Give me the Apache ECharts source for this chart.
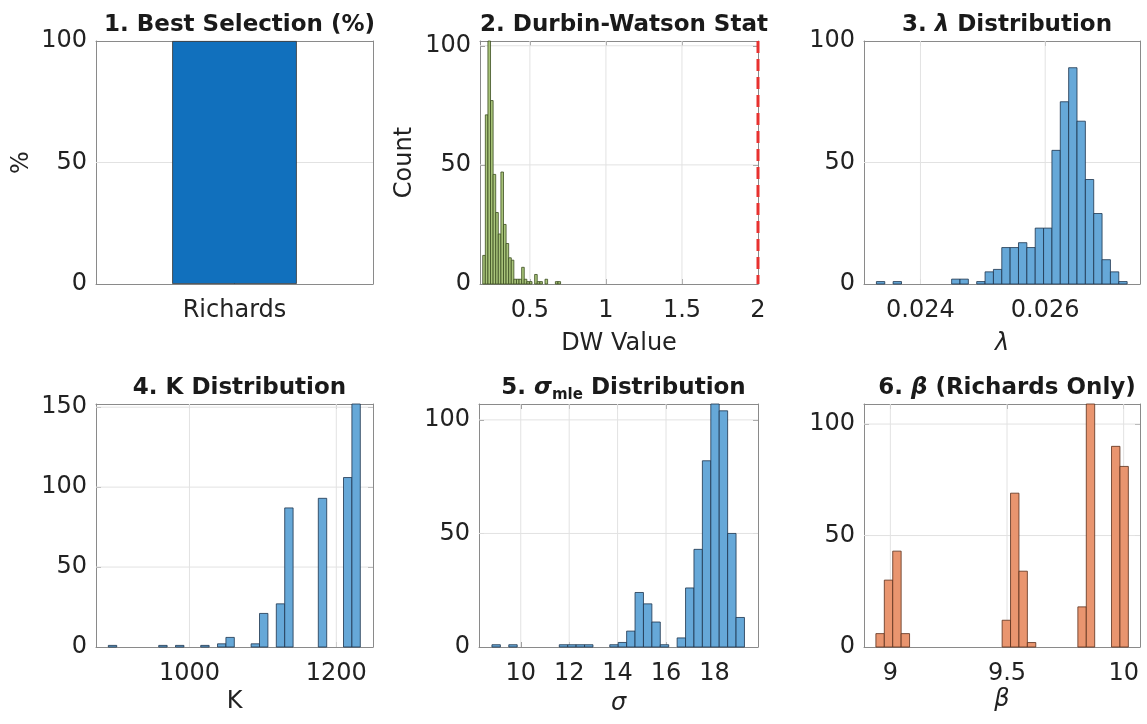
<!DOCTYPE html>
<html>
<head>
<meta charset="utf-8">
<script src="https://cdn.jsdelivr.net/npm/echarts@6/dist/echarts.min.js"></script>
<style>
  html, body { margin: 0; padding: 0; background: #ffffff; }
  #chart { width: 1147px; height: 724px; }
</style>
</head>
<body>
<div id="chart"></div>
<script>
// ---------------- data ----------------
// 1. share of bootstrap runs in which each model was selected as best
const selectionModels = ['Richards'];
const selectionPercent = [100];
const percentTicks = [0, 50, 100];

// 2. Durbin-Watson statistic histogram (30 equal bins), reference value 2
const dwBinStart = 0.19;
const dwBinWidth = 0.01706;
const dwCounts = [12, 71, 102, 77, 46, 30, 21, 47, 25, 17, 11, 10, 2, 2, 2, 7, 2, 1, 1, 0, 4, 1, 1, 0, 2, 0, 0, 0, 1, 1];
const dwReference = [2];
const dwTicks = [0.5, 1, 1.5, 2];
const countTicks = [0, 50, 100];

// 3. lambda histogram
const lambdaBinStart = 0.023294;
const lambdaBinWidth = 0.000134;
const lambdaCounts = [1, 0, 1, 0, 0, 0, 0, 0, 0, 2, 2, 0, 1, 5, 6, 15, 15, 17, 15, 23, 23, 55, 75, 89, 67, 43, 29, 10, 5, 1];
const lambdaTicks = [0.024, 0.026];

// 4. K histogram
const kBinStart = 889.5;
const kBinWidth = 11.44;
const kCounts = [1, 0, 0, 0, 0, 0, 1, 0, 1, 0, 0, 1, 0, 2, 6, 0, 0, 2, 21, 0, 27, 87, 0, 0, 0, 93, 0, 0, 106, 152];
const kTicks = [1000, 1200];
const kCountTicks = [0, 50, 100, 150];

// 5. sigma_mle histogram
const sigmaBinStart = 8.81;
const sigmaBinWidth = 0.3477;
const sigmaCounts = [1, 0, 1, 0, 0, 0, 0, 0, 1, 1, 1, 1, 0, 0, 1, 2, 7, 24, 19, 11, 1, 0, 4, 26, 43, 82, 107, 104, 50, 13];
const sigmaTicks = [10, 12, 14, 16, 18];

// 6. beta histogram (Richards fits only)
const betaBinStart = 8.938;
const betaBinWidth = 0.03607;
const betaCounts = [6, 30, 43, 6, 0, 0, 0, 0, 0, 0, 0, 0, 0, 0, 0, 12, 69, 34, 2, 0, 0, 0, 0, 0, 18, 109, 0, 0, 90, 81];
const betaTicks = [9, 9.5, 10];

// ---------------- styling ----------------
const FONT = 'DejaVu Sans';
const INK = '#222222';
const FRAME = '#8a8a8a';
const GRIDLINE = '#e2e2e2';
const TICK_SIZE = 24;

const layouts = [
  { left: 96,  top: 41,  width: 277, height: 243 },
  { left: 480, top: 41,  width: 278, height: 243 },
  { left: 864, top: 41,  width: 276, height: 243 },
  { left: 96,  top: 404, width: 277, height: 243 },
  { left: 479, top: 404, width: 279, height: 243 },
  { left: 864, top: 404, width: 276, height: 243 }
];

function bins(start, width, counts) {
  const out = [];
  counts.forEach((c, i) => {
    if (c > 0) out.push([start + i * width, start + (i + 1) * width, c]);
  });
  return out;
}

const panels = [
  { kind: 'bar', title: '{b|1. Best Selection (%)}', yMax: 100, yTicks: percentTicks,
    yName: '%', yNameGap: 62 },
  { title: '{b|2. Durbin-Watson Stat}', xMin: 0.172, xMax: 2, xTicks: dwTicks,
    yMax: 102, yTicks: countTicks, xName: 'DW Value', xNameGap: 48, yName: 'Count', yNameGap: 63,
    data: bins(dwBinStart, dwBinWidth, dwCounts), fill: '#a9c57b', stroke: '#3b4d20' },
  { title: '{b|3. }{bi|λ}{b| Distribution}', xMin: 0.023095, xMax: 0.02752, xTicks: lambdaTicks,
    yMax: 100, yTicks: countTicks, xName: 'λ', xNameGap: 48, italicName: true,
    data: bins(lambdaBinStart, lambdaBinWidth, lambdaCounts), fill: '#66a8d8', stroke: '#1d344c' },
  { title: '{b|4. K Distribution}', xMin: 872.7, xMax: 1250, xTicks: kTicks,
    yMax: 152, yTicks: kCountTicks, xName: 'K', xNameGap: 43,
    data: bins(kBinStart, kBinWidth, kCounts), fill: '#66a8d8', stroke: '#1d344c' },
  { title: '{b|5. }{bi|σ}{sub|mle}{b| Distribution}', xMin: 8.275, xMax: 19.8, xTicks: sigmaTicks,
    yMax: 107, yTicks: countTicks, xName: 'σ', xNameGap: 45, italicName: true,
    data: bins(sigmaBinStart, sigmaBinWidth, sigmaCounts), fill: '#66a8d8', stroke: '#1d344c' },
  { title: '{b|6. }{bi|β}{b| (Richards Only)}', xMin: 8.887, xMax: 10.07, xTicks: betaTicks,
    yMax: 109, yTicks: countTicks, xName: 'β', xNameGap: 41, italicName: true,
    data: bins(betaBinStart, betaBinWidth, betaCounts), fill: '#e9956f', stroke: '#5b2f1b' }
];

const titleRich = {
  b:   { fontFamily: FONT, fontSize: 23, fontWeight: 'bold', color: '#1a1a1a', lineHeight: 30, verticalAlign: 'middle' },
  bi:  { fontFamily: FONT, fontSize: 23, fontWeight: 'bold', fontStyle: 'italic', color: '#1a1a1a', lineHeight: 30, verticalAlign: 'middle' },
  sub: { fontFamily: FONT, fontSize: 15, fontWeight: 'bold', color: '#1a1a1a', lineHeight: 17, verticalAlign: 'bottom' }
};

const fmt = v => String(+v.toPrecision(6));

const grid = [], xAxis = [], yAxis = [], series = [], title = [];

panels.forEach((p, i) => {
  const L = layouts[i];
  grid.push({ left: L.left, top: L.top, width: L.width, height: L.height, containLabel: false });

  title.push({
    text: p.title,
    left: L.left + L.width / 2,
    top: i < 3 ? 5 : 368,
    textAlign: 'center',
    textStyle: { rich: titleRich }
  });

  const lineStyle = { color: FRAME, width: 1 };
  const tickStyle = { color: FRAME, width: 1 };
  const labelStyle = { color: INK, fontFamily: FONT, fontSize: TICK_SIZE };

  // x axes: bottom (labelled) + top (mirror ticks only)
  ['bottom', 'top'].forEach(pos => {
    const mirror = pos === 'top';
    if (p.kind === 'bar') {
      xAxis.push({
        type: 'category', gridIndex: i, position: pos, data: selectionModels,
        axisLine: { show: true, onZero: false, lineStyle },
        axisTick: { show: true, inside: true, length: 5, alignWithLabel: true, lineStyle: tickStyle },
        axisLabel: mirror ? { show: false } : Object.assign({ show: true, margin: 15 }, labelStyle),
        splitLine: { show: false }
      });
    } else {
      xAxis.push({
        type: 'value', gridIndex: i, position: pos, min: p.xMin, max: p.xMax,
        name: mirror ? '' : p.xName,
        nameLocation: 'middle', nameGap: p.xNameGap,
        nameTextStyle: { color: INK, fontFamily: FONT, fontSize: 24, fontStyle: p.italicName ? 'italic' : 'normal' },
        axisLine: { show: true, onZero: false, lineStyle },
        axisTick: { show: true, inside: true, length: 5, customValues: p.xTicks, lineStyle: tickStyle },
        axisLabel: mirror ? { show: false } :
          Object.assign({ show: true, margin: 15, customValues: p.xTicks, formatter: fmt }, labelStyle),
        splitLine: { show: false }
      });
    }
  });

  // y axes: left (labelled) + right (mirror ticks only)
  ['left', 'right'].forEach(pos => {
    const mirror = pos === 'right';
    yAxis.push({
      type: 'value', gridIndex: i, position: pos, min: 0, max: p.yMax,
      name: mirror ? '' : (p.yName || ''),
      nameLocation: 'middle', nameGap: p.yNameGap || 60, nameRotate: 90,
      nameTextStyle: { color: INK, fontFamily: FONT, fontSize: 24 },
      axisLine: { show: true, onZero: false, lineStyle },
      axisTick: { show: true, inside: true, length: 5, customValues: p.yTicks, lineStyle: tickStyle },
      axisLabel: mirror ? { show: false } :
        Object.assign({ show: true, margin: 9, customValues: p.yTicks, formatter: fmt }, labelStyle),
      splitLine: { show: false }
    });
  });

  const xIdx = 2 * i, yIdx = 2 * i;

  // horizontal grid lines at the y ticks
  series.push({
    type: 'custom', xAxisIndex: xIdx, yAxisIndex: yIdx, silent: true, z: 1,
    data: p.yTicks.map(v => [v]),
    encode: { y: 0 },
    renderItem(params, api) {
      const cs = params.coordSys;
      const y = api.coord([p.kind === 'bar' ? 0 : p.xMin, api.value(0)])[1];
      if (y <= cs.y + 0.5 || y >= cs.y + cs.height - 0.5) return;
      return { type: 'line', shape: { x1: cs.x, y1: y, x2: cs.x + cs.width, y2: y },
               style: { stroke: GRIDLINE, lineWidth: 1 } };
    }
  });

  if (p.kind === 'bar') {
    series.push({
      type: 'bar', xAxisIndex: xIdx, yAxisIndex: yIdx, z: 2,
      data: selectionPercent, barWidth: '45%',
      itemStyle: { color: '#1170bd', borderColor: '#333333', borderWidth: 0.8 }
    });
    return;
  }

  // vertical grid lines at the x ticks
  series.push({
    type: 'custom', xAxisIndex: xIdx, yAxisIndex: yIdx, silent: true, z: 1,
    data: p.xTicks.map(v => [v]),
    encode: { x: 0 },
    renderItem(params, api) {
      const cs = params.coordSys;
      const x = api.coord([api.value(0), 0])[0];
      if (x <= cs.x + 0.5 || x >= cs.x + cs.width - 0.5) return;
      return { type: 'line', shape: { x1: x, y1: cs.y, x2: x, y2: cs.y + cs.height },
               style: { stroke: GRIDLINE, lineWidth: 1 } };
    }
  });

  // histogram bars
  series.push({
    type: 'custom', xAxisIndex: xIdx, yAxisIndex: yIdx, z: 2,
    data: p.data,
    encode: { x: [0, 1], y: 2 },
    renderItem(params, api) {
      const top = api.coord([api.value(0), api.value(2)]);
      const bot = api.coord([api.value(1), 0]);
      return { type: 'rect',
               shape: { x: top[0], y: top[1], width: bot[0] - top[0], height: bot[1] - top[1] },
               style: { fill: p.fill, stroke: p.stroke, lineWidth: 0.8 } };
    }
  });

  // Durbin-Watson reference line at DW = 2
  if (i === 1) {
    series.push({
      type: 'custom', xAxisIndex: xIdx, yAxisIndex: yIdx, silent: true, z: 5, clip: false,
      data: dwReference.map(v => [v]),
      encode: { x: 0 },
      renderItem(params, api) {
        const cs = params.coordSys;
        const x = api.coord([api.value(0), 0])[0];
        return { type: 'line', shape: { x1: x, y1: cs.y, x2: x, y2: cs.y + cs.height },
                 style: { stroke: '#e8312f', lineWidth: 3, lineDash: [12, 6] } };
      }
    });
  }
});

const chart = echarts.init(document.getElementById('chart'), null, { renderer: 'canvas' });
chart.setOption({
  animation: false,
  backgroundColor: '#ffffff',
  title, grid, xAxis, yAxis, series
});
</script>
</body>
</html>
